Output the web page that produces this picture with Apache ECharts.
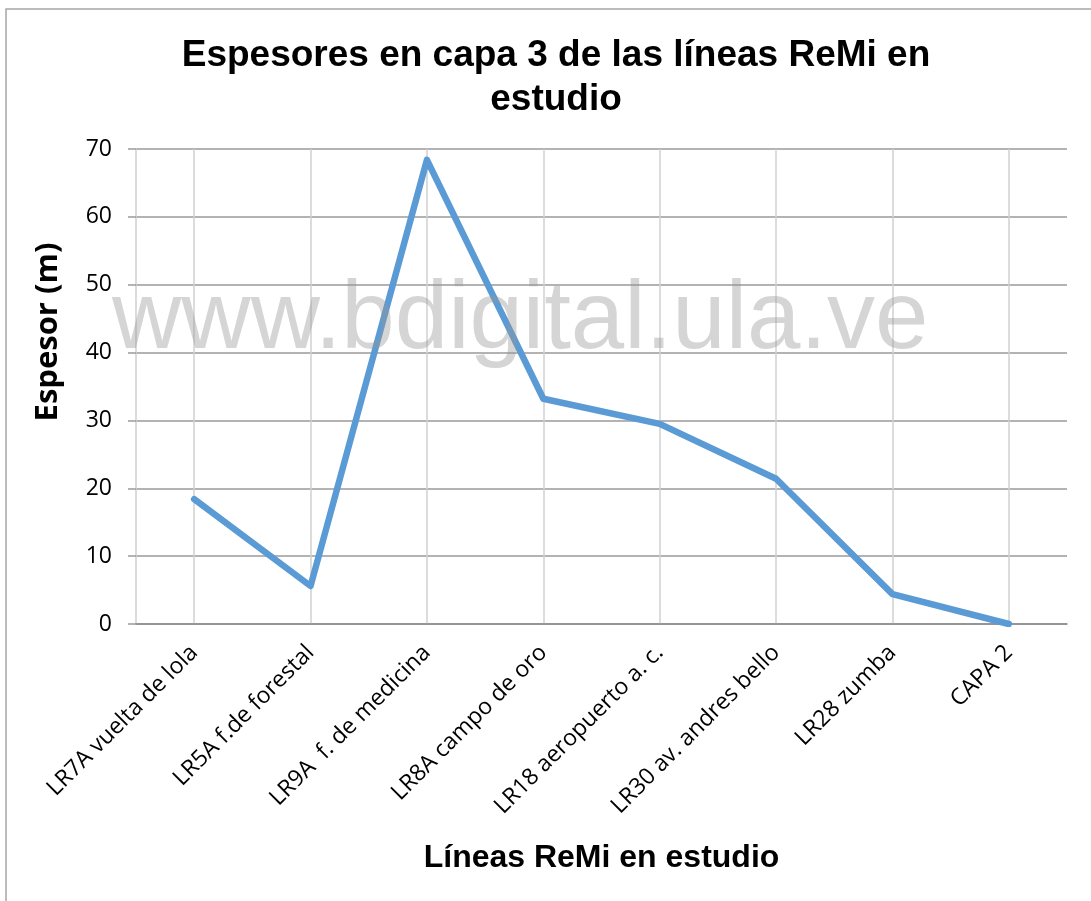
<!DOCTYPE html>
<html>
<head>
<meta charset="utf-8">
<style>
  html, body { margin: 0; padding: 0; background: #fff; }
  #chart { width: 1091px; height: 901px; }
</style>
<script src="https://cdn.jsdelivr.net/npm/echarts@6/dist/echarts.min.js"></script>
</head>
<body>
<div id="chart"></div>
<script>
const categories = [
  'LR7A vuelta de lola',
  'LR5A f.de forestal',
  'LR9A  f. de medicina',
  'LR8A campo de oro',
  'LR18 aeropuerto a. c.',
  'LR30 av. andres bello',
  'LR28 zumba',
  'CAPA 2'
]
const espesor = [18.4, 5.6, 68.4, 33.2, 29.5, 21.4, 4.4, 0]
const yTicks = {min: 0, max: 70, interval: 10}

const chart = echarts.init(document.getElementById('chart'))

chart.setOption({
  animation: false,
  backgroundColor: '#fff',
  title: {
    text: 'Espesores en capa 3 de las líneas ReMi en\nestudio',
    left: 551,
    top: 29,
    textAlign: 'center',
    textStyle: {
      fontFamily: 'Liberation Sans',
      fontWeight: 'bold',
      fontSize: 37,
      lineHeight: 44,
      color: '#000'
    }
  },
  grid: {left: 136, right: 24, top: 149, bottom: 277},
  xAxis: {
    type: 'category',
    data: categories,
    boundaryGap: true,
    name: 'Líneas ReMi en estudio',
    nameLocation: 'middle',
    nameGap: 218,
    nameTextStyle: {
      fontFamily: 'Liberation Sans',
      fontWeight: 'bold',
      fontSize: 32,
      color: '#000'
    },
    axisLine: {lineStyle: {color: '#8c8c8c', width: 1.5}},
    axisTick: {show: false},
    // vertical gridlines sit on the categories, not between them
    splitLine: {show: true, alignWithLabel: true, lineStyle: {color: '#d0d0d0', width: 1.5}},
    axisLabel: {
      rotate: 45,
      interval: 0,
      margin: 25,
      fontFamily: 'Open Sans',
      fontSize: 23,
      color: '#000'
    }
  },
  yAxis: {
    type: 'value',
    min: yTicks.min,
    max: yTicks.max,
    interval: yTicks.interval,
    axisLine: {show: true, lineStyle: {color: '#cfcfcf', width: 1.5}},
    axisTick: {show: true, length: 8, lineStyle: {color: '#9a9a9a', width: 1.5}},
    splitLine: {lineStyle: {color: '#9a9a9a', width: 1.5}},
    axisLabel: {
      margin: 24,
      fontFamily: 'Open Sans',
      fontSize: 23,
      color: '#000'
    }
  },
  series: [{
    type: 'line',
    data: espesor,
    symbol: 'none',
    lineStyle: {color: '#5b9bd5', width: 6.5, cap: 'round', join: 'round'},
    z: 3
  }],
  graphic: [
    {
      type: 'polyline',
      shape: {points: [[6, 901], [6, 9], [1091, 9]]},
      style: {stroke: '#a6a6a6', lineWidth: 1.5, fill: null},
      silent: true
    },
    {
      type: 'text',
      x: 48,
      y: 332,
      rotation: Math.PI / 2,
      style: {
        text: 'Espesor (m)',
        align: 'center',
        verticalAlign: 'middle',
        fontFamily: 'Open Sans',
        fontWeight: 'bold',
        fontSize: 31,
        fill: '#000'
      },
      silent: true
    },
    {
      // watermark, drawn over the plot
      type: 'text',
      left: 112,
      top: 274,
      z: 100,
      style: {
        text: 'www.bdigital.ula.ve',
        fontFamily: 'Liberation Sans',
        fontSize: 96,
        fill: 'rgba(150,150,150,0.4)'
      },
      silent: true
    }
  ]
})
</script>
</body>
</html>
